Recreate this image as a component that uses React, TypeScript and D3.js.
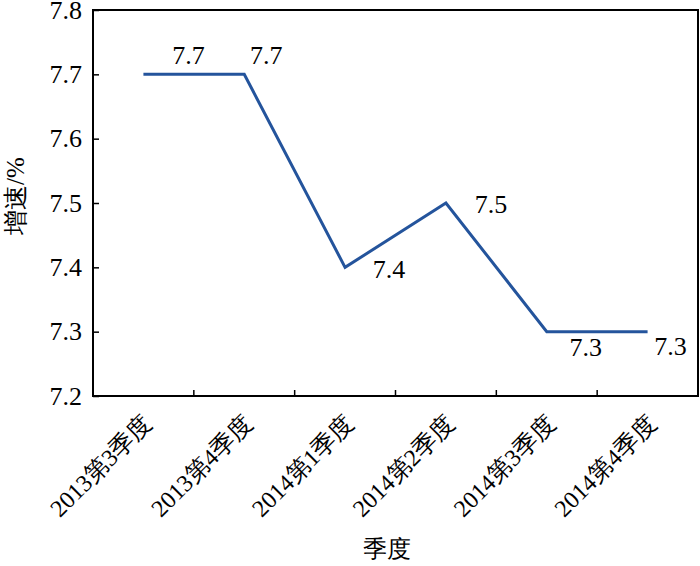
import React, { useRef, useEffect } from 'react';
import * as d3 from 'd3';

const quarters = ['2013第3季度', '2013第4季度', '2014第1季度', '2014第2季度', '2014第3季度', '2014第4季度'];
const growth = [7.7, 7.7, 7.4, 7.5, 7.3, 7.3];
const yTicks = [7.2, 7.3, 7.4, 7.5, 7.6, 7.7, 7.8];

// where each value label sits relative to its point
const labelOffsets = [
	[45, -10],
	[22, -10],
	[44, 11],
	[45, 10],
	[39, 24],
	[23, 23]
];

const W = 700;
const H = 566;
const m = { l: 93, r: 2, t: 10, b: 170 };
const FONT = 'Liberation Serif';

const XAxis = ({ scale, y }) => {
	const axis = useRef(null);
	useEffect(() => {
		const g = d3.select(axis.current);
		// inward ticks sit at the band boundaries
		g.selectAll('.bnd')
			.data(scale.domain().slice(1))
			.join('line')
			.attr('class', 'bnd')
			.attr('x1', (d) => scale(d))
			.attr('x2', (d) => scale(d))
			.attr('y1', 0)
			.attr('y2', -6)
			.attr('stroke', '#000')
			.attr('stroke-width', 1.5);
		g.selectAll('.lab')
			.data(scale.domain())
			.join('text')
			.attr('class', 'lab')
			.attr('transform', (d) => `translate(${scale(d) + scale.bandwidth() / 2 + 10}, 29) rotate(-45)`)
			.attr('text-anchor', 'end')
			.style('font-size', '24px')
			.style('font-family', FONT)
			.attr('fill', '#000')
			.text((d) => d);
	}, []);
	return <g ref={axis} transform={`translate(0, ${y})`} />;
};

const YAxis = ({ scale, x }) => {
	const axis = useRef(null);
	useEffect(() => {
		const g = d3.select(axis.current);
		g.call(d3.axisRight(scale).tickValues(yTicks).tickSize(6).tickFormat(d3.format('.1f')));
		g.attr('font-family', null).attr('font-size', null);
		g.select('.domain').remove();
		g.selectAll('.tick line').attr('stroke-width', 1.5);
		g.selectAll('.tick text')
			.attr('text-anchor', 'end')
			.attr('x', -11)
			.style('font-size', '26px')
			.style('font-family', FONT)
			.attr('fill', '#000');
	}, []);
	return <g ref={axis} transform={`translate(${x}, 0)`} />;
};

const App = () => {
	const xScale = d3.scaleBand().domain(quarters).range([ m.l, W - m.r ]);
	const yScale = d3.scaleLinear().domain([ 7.2, 7.8 ]).range([ H - m.b, m.t ]);
	const cx = (q) => xScale(q) + xScale.bandwidth() / 2;
	const line = d3
		.line()
		.x((d, i) => cx(quarters[i]))
		.y((d) => yScale(d));

	return (
		<svg width={W} height={H} style={{ position: 'absolute', left: 0, top: 0, background: '#fff' }}>
			<rect
				x={m.l}
				y={m.t}
				width={W - m.r - m.l}
				height={H - m.b - m.t}
				fill="none"
				stroke="#000"
				strokeWidth={2}
			/>
			<XAxis scale={xScale} y={H - m.b} />
			<YAxis scale={yScale} x={m.l} />
			<path d={line(growth)} fill="none" stroke="#24549c" strokeWidth={3} />
			{growth.map((d, i) => (
				<text
					key={i}
					x={cx(quarters[i]) + labelOffsets[i][0]}
					y={yScale(d) + labelOffsets[i][1]}
					textAnchor="middle"
					style={{ fontSize: 26, fontFamily: FONT }}
				>
					{d.toFixed(1)}
				</text>
			))}
			<text
				x={(m.l + W - m.r) / 2 - 9}
				y={557}
				textAnchor="middle"
				style={{ fontSize: 24, fontFamily: FONT }}
			>
				季度
			</text>
			<text
				transform="translate(24, 196) rotate(-90)"
				textAnchor="middle"
				style={{ fontSize: 25, fontFamily: FONT }}
			>
				增速/%
			</text>
		</svg>
	);
};

export default App;
